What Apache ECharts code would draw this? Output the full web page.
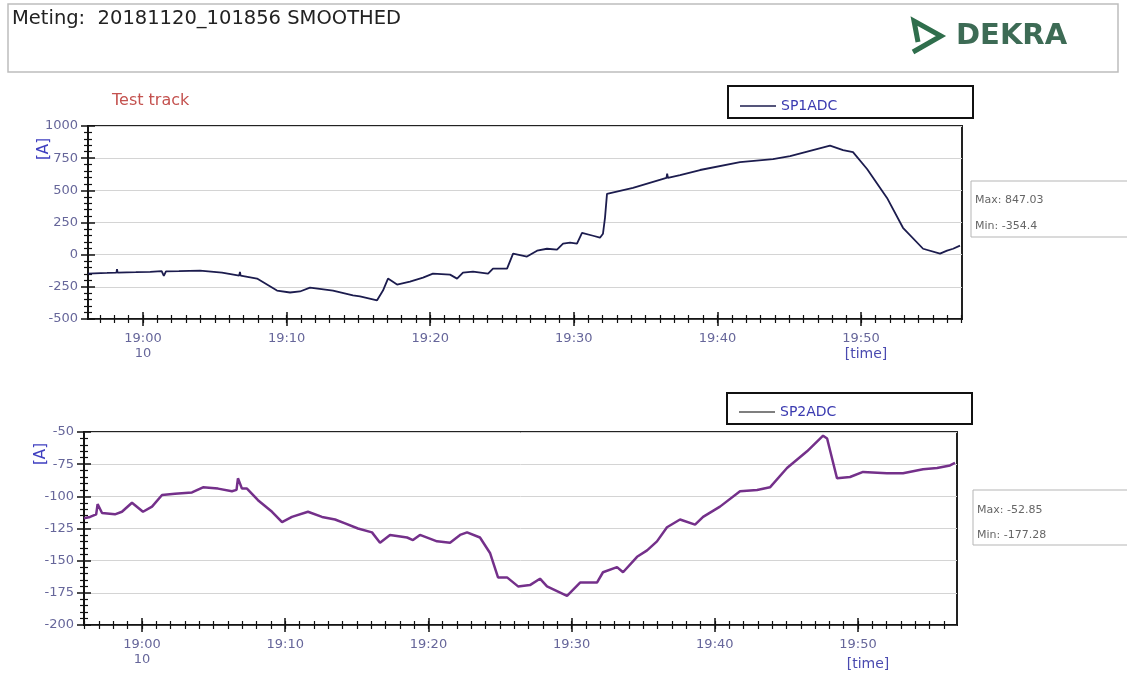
<!DOCTYPE html>
<html>
<head>
<meta charset="utf-8">
<script src="https://cdn.jsdelivr.net/npm/echarts@6/dist/echarts.min.js"></script>
<style>
html,body{margin:0;padding:0;background:#fff;}
#main{width:1127px;height:675px;}
</style>
</head>
<body>
<div id="main"></div>
<script>
// ---- data (minutes relative to 19:00) ----
const sp1Time = [-3.83,-2.5,-1.85,-1.81,-1.77,-0.5,0.5,1.3,1.45,1.6,2.5,3.97,5.5,6.7,6.75,6.8,7.94,9.33,10.24,10.93,11.63,13.23,14.62,15.11,16.30,16.50,16.71,17.06,17.69,18.59,19.50,20.19,21.38,21.87,22.28,22.98,24.03,24.37,25.35,25.77,26.74,27.44,28.13,28.83,29.25,29.74,30.22,30.57,31.34,31.82,32.03,32.17,32.31,34.12,36.45,36.5,36.55,37.40,38.79,41.57,43.87,45.06,47.84,48.75,49.44,50.42,51.81,52.92,54.32,55.50,55.99,56.41,56.89];
const sp1Values = [-147,-142,-139,-112,-139,-136,-133,-128,-165,-130,-128,-124,-140,-163,-135,-163,-186,-279,-294,-286,-256,-279,-317,-325,-354.4,-317,-279,-186,-232,-209,-178,-147,-155,-186,-139,-132,-147,-108,-108,8,-15,31,46,39,85,93,85,170,147,132,163,286,472,519,596,630,596,619,658,720,743,766,847.03,813,797,666,441,209,46,8,31,46,70];

const sp2Time = [-4.05,-3.63,-3.2,-3.1,-2.79,-1.89,-1.40,-0.70,0.07,0.70,1.40,2.30,3.49,4.26,5.31,6.28,6.6,6.7,6.98,7.33,8.10,9.08,9.78,10.47,11.59,12.57,13.48,14.18,15.08,16.06,16.62,17.32,18.51,18.92,19.41,20.60,21.51,22.21,22.70,23.60,24.30,24.86,25.49,26.26,27.09,27.79,28.28,29.68,30.59,31.77,32.19,33.17,33.59,34.57,35.27,35.96,36.66,37.57,38.62,39.18,40.36,41.76,42.95,43.85,45.04,46.44,47.56,47.84,48.53,49.44,50.35,52.02,53.14,54.54,55.52,56.42,56.77];
const sp2Values = [-117,-116,-114,-106,-113,-114,-112,-105,-112,-108,-99,-98,-97,-93,-94,-96,-95,-86,-94,-94,-103,-112,-120,-116,-112,-116,-118,-121,-125,-128,-136,-130,-132,-134,-130,-135,-136,-130,-128,-132,-144,-163,-163,-170,-169,-164,-170,-177.28,-167,-167,-159,-155,-159,-147,-142,-135,-124,-118,-122,-116,-108,-96,-95,-93,-78,-65,-52.85,-55,-86,-85,-81,-82,-82,-79,-78,-76,-74];

const xMajorTicks = [0,10,20,30,40,50];
const xMajorLabels = ['19:00\n10','19:10','19:20','19:30','19:40','19:50'];
const topYTicks = [-500,-250,0,250,500,750,1000];
const botYTicks = [-200,-175,-150,-125,-100,-75,-50];
const seriesNames = ['SP1ADC','SP2ADC'];
const statLines = [['Max: 847.03','Min: -354.4'],['Max: -52.85','Min: -177.28']];
const headerText = 'Meting:  20181120_101856 SMOOTHED';

// ---- layout ----
const FONT = 'DejaVu Sans';
const labelColor = '#66669a';
const grids = [
  {left:88, top:126, width:874, height:193, xmin:-3.83, xmax:57.03, ymin:-500, ymax:1000, yint:250},
  {left:84, top:432, width:873, height:193, xmin:-4.05, xmax:56.91, ymin:-200, ymax:-50, yint:25}
];

function minuteTicks(min,max){const a=[];for(let m=Math.ceil(min);m<=Math.floor(max);m++)a.push(m);return a;}
function fmtLabel(v){const i=xMajorTicks.indexOf(Math.round(v));return i>=0?xMajorLabels[i]:'';}

const xAxes=[], yAxes=[];
const hiddenLine = {show:false, onZero:false};
grids.forEach((g,gi)=>{
  const minutes = minuteTicks(g.xmin,g.xmax);
  const base = {type:'value', gridIndex:gi, min:g.xmin, max:g.xmax, position:'bottom', splitLine:{show:false}};
  xAxes.push(Object.assign({}, base, {
    axisLine:{show:true, onZero:false, lineStyle:{color:'#111', width:1.5}},
    axisTick:{show:true, inside:false, length:4, customValues:minutes, lineStyle:{color:'#111', width:1.2}},
    axisLabel:{show:true, customValues:xMajorTicks, formatter:fmtLabel, color:labelColor, fontFamily:FONT, fontSize:13, margin:12, lineHeight:15}
  }));
  xAxes.push(Object.assign({}, base, {
    axisLine:hiddenLine, axisLabel:{show:false},
    axisTick:{show:true, inside:true, length:4, customValues:minutes, lineStyle:{color:'#111', width:1.2}}
  }));
  xAxes.push(Object.assign({}, base, {
    axisLine:hiddenLine, axisLabel:{show:false},
    axisTick:{show:true, inside:false, length:7, customValues:xMajorTicks, lineStyle:{color:'#111', width:1.5}}
  }));
  xAxes.push(Object.assign({}, base, {
    axisLine:hiddenLine, axisLabel:{show:false},
    axisTick:{show:true, inside:true, length:7, customValues:xMajorTicks, lineStyle:{color:'#111', width:1.5}}
  }));
  const ybase = {type:'value', gridIndex:gi, min:g.ymin, max:g.ymax, interval:g.yint, position:'left'};
  const yTicks = gi===0?topYTicks:botYTicks;
  yAxes.push(Object.assign({}, ybase, {
    axisLine:{show:true, onZero:false, lineStyle:{color:'#111', width:1.5}},
    axisTick:{show:true, inside:false, length:7, lineStyle:{color:'#111', width:1.5}},
    minorTick:{show:true, splitNumber:5, length:4, lineStyle:{color:'#111', width:1.2}},
    axisLabel:{show:true, color:labelColor, fontFamily:FONT, fontSize:13, margin:10,
      formatter:(v)=> yTicks.indexOf(v)>=0 ? String(v) : ''},
    splitLine:{show:true, lineStyle:{color:'#d4d4d4', width:1}}
  }));
  yAxes.push(Object.assign({}, ybase, {
    axisLine:hiddenLine, axisLabel:{show:false}, splitLine:{show:false},
    axisTick:{show:true, inside:true, length:7, lineStyle:{color:'#111', width:1.5}},
    minorTick:{show:true, splitNumber:5, length:4, lineStyle:{color:'#111', width:1.2}}
  }));
});

const sp1Data = sp1Time.map((t,i)=>[t, sp1Values[i]]);
const sp2Data = sp2Time.map((t,i)=>[t, sp2Values[i]]);

const graphics = [
  {type:'rect', shape:{x:8,y:4,width:1110,height:68}, style:{fill:'#fff', stroke:'#bdbdbd', lineWidth:1.5}},
  {type:'text', x:12, y:9, style:{text:headerText, font:'19.5px "DejaVu Sans"', fill:'#222'}},
  {type:'polyline', shape:{points:[[918,42],[914,21],[941,36],[913,52]]}, style:{stroke:'#2f6e4c', lineWidth:5, lineJoin:'miter', fill:null}},
  {type:'text', x:956, y:22, style:{text:'DEKRA', font:'bold 29px "DejaVu Sans"', fill:'#3d6b55'}},
  {type:'text', x:112, y:93, style:{text:'Test track', font:'16px "DejaVu Sans"', fill:'#c4524f'}},
  {type:'rect', shape:{x:728,y:86,width:245,height:32}, style:{fill:'#fff', stroke:'#111', lineWidth:2}, z:-1},
  {type:'rect', shape:{x:727,y:393,width:245,height:31}, style:{fill:'#fff', stroke:'#111', lineWidth:2}, z:-1},
  {type:'rect', shape:{x:971,y:181,width:160,height:56}, style:{fill:'#fff', stroke:'#b5b5b5', lineWidth:1}},
  {type:'text', x:975, y:195, style:{text:statLines[0][0], font:'11px "DejaVu Sans"', fill:'#666'}},
  {type:'text', x:975, y:221, style:{text:statLines[0][1], font:'11px "DejaVu Sans"', fill:'#666'}},
  {type:'rect', shape:{x:973,y:490,width:160,height:55}, style:{fill:'#fff', stroke:'#b5b5b5', lineWidth:1}},
  {type:'text', x:977, y:505, style:{text:statLines[1][0], font:'11px "DejaVu Sans"', fill:'#666'}},
  {type:'text', x:977, y:530, style:{text:statLines[1][1], font:'11px "DejaVu Sans"', fill:'#666'}},
  {type:'text', x:44, y:149, rotation:Math.PI/2, style:{text:'[A]', font:'15px "DejaVu Sans"', fill:'#4040c0', align:'center', verticalAlign:'middle'}},
  {type:'text', x:41, y:454, rotation:Math.PI/2, style:{text:'[A]', font:'15px "DejaVu Sans"', fill:'#4040c0', align:'center', verticalAlign:'middle'}},
  {type:'text', x:866, y:354, style:{text:'[time]', font:'14px "DejaVu Sans"', fill:'#4a4ab0', align:'center', verticalAlign:'middle'}},
  {type:'text', x:868, y:664, style:{text:'[time]', font:'14px "DejaVu Sans"', fill:'#4a4ab0', align:'center', verticalAlign:'middle'}}
];

const chart = echarts.init(document.getElementById('main'), null, {renderer:'canvas'});
chart.setOption({
  backgroundColor:'#fff',
  animation:false,
  grid: grids.map(g=>({left:g.left, top:g.top, width:g.width, height:g.height, show:true, borderColor:'#222', borderWidth:2, backgroundColor:'#fff'})),
  xAxis: xAxes,
  yAxis: yAxes,
  legend: [
    {data:[seriesNames[0]], left:735, top:94, icon:'rect', itemWidth:36, itemHeight:1.5, itemGap:6,
     textStyle:{color:'#3a3ab0', fontFamily:FONT, fontSize:14}, selectedMode:false},
    {data:[seriesNames[1]], left:734, top:400, icon:'rect', itemWidth:36, itemHeight:1.5, itemGap:6,
     textStyle:{color:'#3a3ab0', fontFamily:FONT, fontSize:14}, selectedMode:false}
  ],
  series: [
    {name:seriesNames[0], type:'line', xAxisIndex:0, yAxisIndex:0, data:sp1Data, showSymbol:false,
     lineStyle:{color:'#1c1c4e', width:1.8}, itemStyle:{color:'#1c1c4e'}},
    {name:seriesNames[1], type:'line', xAxisIndex:4, yAxisIndex:2, data:sp2Data, showSymbol:false,
     lineStyle:{color:'#74308a', width:2.5}, itemStyle:{color:'#555'}}
  ],
  graphic: graphics
});
</script>
</body>
</html>
